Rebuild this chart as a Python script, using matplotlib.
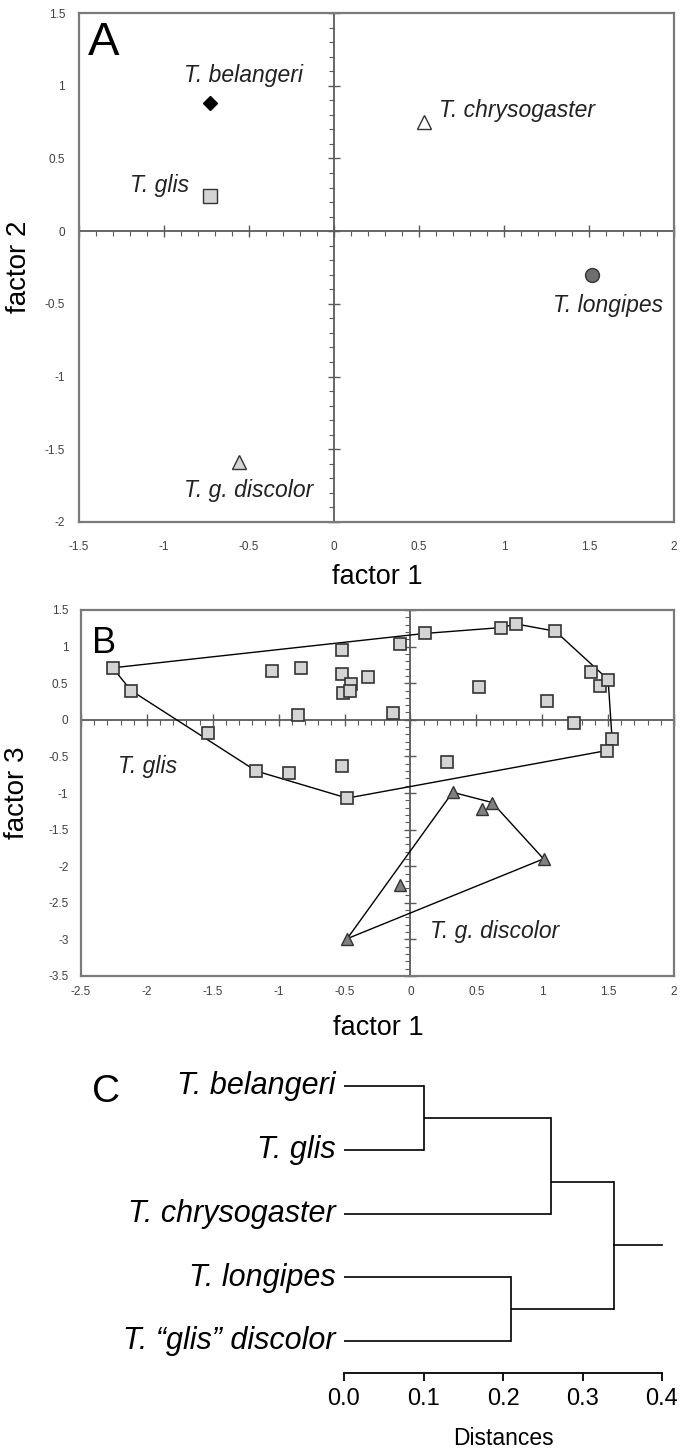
import matplotlib
matplotlib.use('Agg')
import matplotlib.pyplot as plt
from matplotlib.ticker import MultipleLocator, FuncFormatter

plt.rcParams['font.family'] = ['Liberation Sans', 'DejaVu Sans']
plt.rcParams['axes.unicode_minus'] = False

# ---------------- data ----------------
# Panel A: species centroids (factor 1, factor 2)
species_A = ["T. belangeri", "T. glis", "T. chrysogaster", "T. longipes", "T. g. discolor"]
f1_A = [-0.73, -0.73, 0.53, 1.52, -0.56]
f2_A = [0.88, 0.24, 0.75, -0.30, -1.59]

# Panel B: individual scores (factor 1, factor 3)
glis_hull_f1 = [-2.26, 0.11, 0.69, 0.80, 1.10, 1.50, 1.53, 1.49, -0.48, -1.17, -2.12]
glis_hull_f3 = [0.71, 1.18, 1.26, 1.31, 1.21, 0.55, -0.26, -0.42, -1.07, -0.70, 0.40]
glis_in_f1 = [-1.05, -0.83, -0.52, -0.08, -0.52, -0.45, -0.51, -0.46, -0.32, -0.85,
              -0.13, -1.54, -0.92, -0.52, 0.52, 1.04, 1.24, 1.37, 1.44, 0.28]
glis_in_f3 = [0.66, 0.71, 0.96, 1.04, 0.62, 0.49, 0.37, 0.40, 0.58, 0.06,
              0.09, -0.18, -0.72, -0.63, 0.45, 0.26, -0.04, 0.65, 0.46, -0.57]
disc_hull_f1 = [0.32, 0.62, 1.01, -0.48]
disc_hull_f3 = [-0.99, -1.13, -1.90, -2.99]
disc_in_f1 = [0.54, -0.08]
disc_in_f3 = [-1.22, -2.26]

# Panel C: dendrogram
dend_leaves = ["T. belangeri", "T. glis", "T. chrysogaster", "T. longipes", "T. \u201cglis\u201d discolor"]
# (cluster a, cluster b, distance); indices >= len(leaves) refer to earlier merges
dend_merges = [(0, 1, 0.10), (5, 2, 0.26), (3, 4, 0.21), (6, 7, 0.34)]
dend_root_end = 0.40
dist_ticks = [0.0, 0.1, 0.2, 0.3, 0.4]

# ---------------- figure ----------------
W, H = 681, 1449
fig = plt.figure(figsize=(W / 100, H / 100), dpi=100)


def rect(l, t, r, b):
    return [l / W, 1 - b / H, (r - l) / W, (b - t) / H]


def gfmt(v, pos):
    return '%g' % (round(v, 6) + 0.0)


FRAME = '#7a7a7a'
AXC = '#5a5a5a'


def quad_axes(r, xlim, ylim, xpad, ypad):
    under = fig.add_axes(r)
    under.set_zorder(0)
    under.set_xlim(xlim)
    under.set_ylim(ylim)
    for s in ['top', 'right']:
        under.spines[s].set_visible(False)
    for s in ['left', 'bottom']:
        under.spines[s].set_position(('data', 0))
        under.spines[s].set_color(AXC)
        under.spines[s].set_linewidth(1.3)
    for a in (under.xaxis, under.yaxis):
        a.set_major_locator(MultipleLocator(0.5))
        a.set_minor_locator(MultipleLocator(0.1))
    under.tick_params(which='major', direction='inout', length=8, width=1.0,
                      color=AXC, labelbottom=False, labelleft=False)
    under.tick_params(which='minor', direction='out', length=3.5, width=0.8, color=AXC)

    main = fig.add_axes(r)
    main.set_zorder(1)
    main.patch.set_alpha(0)
    main.set_xlim(xlim)
    main.set_ylim(ylim)
    for a in (main.xaxis, main.yaxis):
        a.set_major_locator(MultipleLocator(0.5))
        a.set_major_formatter(FuncFormatter(gfmt))
    main.tick_params(axis='both', length=0, labelsize=8.5, labelcolor='#404040')
    main.tick_params(axis='x', pad=xpad)
    main.tick_params(axis='y', pad=ypad)
    for s in main.spines.values():
        s.set_color(FRAME)
        s.set_linewidth(1.6)
    return main


# ---------------- Panel A ----------------
axA = quad_axes(rect(79, 13, 674, 522), (-1.5, 2), (-2, 1.5), 13.5, 10)
styleA = [
    dict(marker='D', ms=7.5, mfc='black', mec='black'),
    dict(marker='s', ms=10, mfc='#d4d4d4', mec='#333333'),
    dict(marker='^', ms=10.5, mfc='white', mec='#333333'),
    dict(marker='o', ms=10, mfc='#6e6e6e', mec='#333333'),
    dict(marker='^', ms=10.5, mfc='#d4d4d4', mec='#333333'),
]
labposA = [(-0.88, 1.026), (-1.20, 0.266), (0.615, 0.784), (1.29, -0.553), (-0.88, -1.829)]
for name, x, y, st, (lx, ly) in zip(species_A, f1_A, f2_A, styleA, labposA):
    axA.plot([x], [y], linestyle='none', mew=1.0, zorder=3, **st)
    axA.text(lx, ly, name, fontsize=16.5, style='italic', color='#222222',
             ha='left', va='baseline')
axA.text(0.015, 0.9175, 'A', transform=axA.transAxes, fontsize=34,
         ha='left', va='baseline')
fig.text(377 / W, 1 - 577 / H, 'factor 1', ha='center', va='center', fontsize=19.5)
fig.text(19 / W, 1 - 267 / H, 'factor 2', ha='center', va='center',
         rotation=90, fontsize=20)

# ---------------- Panel B ----------------
axB = quad_axes(rect(81, 610, 674, 976), (-2.5, 2), (-3.5, 1.5), 7.5, 9)
axB.plot(glis_hull_f1 + glis_hull_f1[:1], glis_hull_f3 + glis_hull_f3[:1],
         color='black', lw=1.0, zorder=2)
axB.plot(disc_hull_f1 + disc_hull_f1[:1], disc_hull_f3 + disc_hull_f3[:1],
         color='black', lw=1.0, zorder=2)
sq = dict(marker='s', ms=8, mfc='#d4d4d4', mec='#333333', mew=1.2, linestyle='none', zorder=3)
tr = dict(marker='^', ms=8.5, mfc='#808080', mec='#333333', mew=1.0, linestyle='none', zorder=3)
axB.plot(glis_in_f1, glis_in_f3, **sq)
axB.plot(glis_hull_f1, glis_hull_f3, **sq)
axB.plot(disc_hull_f1, disc_hull_f3, **tr)
axB.plot(disc_in_f1, disc_in_f3, **tr)
axB.text(-2.22, -0.73, 'T. glis', fontsize=16.5, style='italic', color='#222222',
         ha='left', va='baseline')
axB.text(0.15, -2.98, 'T. g. discolor', fontsize=16.5, style='italic', color='#222222',
         ha='left', va='baseline')
axB.text(0.0185, 0.8825, 'B', transform=axB.transAxes, fontsize=26,
         ha='left', va='baseline')
fig.text(378 / W, 1 - 1028 / H, 'factor 1', ha='center', va='center', fontsize=19.5)
fig.text(17 / W, 1 - 793 / H, 'factor 3', ha='center', va='center',
         rotation=90, fontsize=20)

# ---------------- Panel C ----------------
axC = fig.add_axes(rect(344, 1060, 662, 1373))
axC.set_xlim(0, 0.4)
axC.set_ylim(-0.502, 4.408)
for s in ['top', 'right', 'left']:
    axC.spines[s].set_visible(False)
axC.spines['bottom'].set_linewidth(1.3)
axC.set_yticks([])
axC.set_xticks(dist_ticks)
axC.set_xticklabels(['%.1f' % t for t in dist_ticks])
axC.tick_params(axis='x', direction='out', length=6, width=1.3, labelsize=17, pad=5)

n = len(dend_leaves)
nodes = []  # (y_node, height, first_leaf_y, last_leaf_y)
for i, name in enumerate(dend_leaves):
    y = n - 1 - i
    nodes.append((y, 0.0, y, y))
    axC.text(-0.011, y - 0.13, name, fontsize=22, style='italic', ha='right', va='baseline')
for a, b, h in dend_merges:
    ya, ha, fa, la = nodes[a]
    yb, hb, fb, lb = nodes[b]
    axC.plot([ha, h], [ya, ya], color='black', lw=1.2, clip_on=False, solid_capstyle='butt')
    axC.plot([hb, h], [yb, yb], color='black', lw=1.2, clip_on=False, solid_capstyle='butt')
    axC.plot([h, h], [ya, yb], color='black', lw=1.2, clip_on=False)
    nodes.append(((la + fb) / 2.0, h, fa, lb))
yr, hr, _, _ = nodes[-1]
axC.plot([hr, dend_root_end], [yr, yr], color='black', lw=1.2, clip_on=False)

fig.text(92 / W, 1 - 1102 / H, 'C', fontsize=28, ha='left', va='baseline')
fig.text(503 / W, 1 - 1445 / H, 'Distances', ha='center', va='baseline', fontsize=16.5)

fig.savefig('out.png', dpi=100)
